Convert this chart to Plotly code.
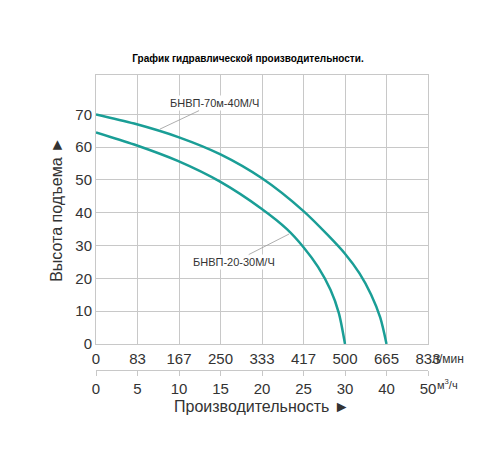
import plotly.graph_objects as go

# gridlines are evenly spaced, one per tick, so x is stored in grid-step units
flow_m3h = ['0', '5', '10', '15', '20', '25', '30', '40', '50']
flow_lmin = ['0', '83', '167', '250', '333', '417', '500', '665', '833']
head_ticks = [0, 10, 20, 30, 40, 50, 60, 70]

pump70_x = [0, 0.92, 2.0, 3.0, 4.0, 5.0, 5.6, 6.0, 6.35, 6.63, 6.85, 7.0]
pump70_y = [70, 67.2, 63.0, 57.8, 50.5, 40.5, 33.0, 27.5, 21.5, 15.0, 8.0, 0]
pump20_x = [0, 0.92, 1.97, 3.0, 3.98, 4.6, 5.0, 5.35, 5.65, 5.85, 6.0]
pump20_y = [64.5, 60.8, 55.8, 49.4, 41.3, 35.0, 29.5, 23.5, 16.5, 9.5, 0]

teal = '#1a9e96'
grey = '#333333'

fig = go.Figure()
fig.add_trace(go.Scatter(x=pump70_x, y=pump70_y, mode='lines',
                         line=dict(color=teal, width=2.5, shape='spline', smoothing=0.8)))
fig.add_trace(go.Scatter(x=pump20_x, y=pump20_y, mode='lines',
                         line=dict(color=teal, width=2.5, shape='spline', smoothing=0.8)))
# second row of flow labels (m3/h)
fig.add_trace(go.Scatter(x=[0], y=[0], xaxis='x2', mode='markers',
                         marker=dict(opacity=0), hoverinfo='skip'))

fig.add_annotation(x=1.54, y=65.5, text='БНВП-70м-40М/Ч', ax=55, ay=-26,
                   showarrow=True, arrowhead=0, arrowcolor='#999999', arrowwidth=0.8,
                   bgcolor='white', font=dict(size=11, color=grey))
fig.add_annotation(x=4.65, y=33.5, text='БНВП-20-30М/Ч', ax=-55, ay=28,
                   showarrow=True, arrowhead=0, arrowcolor='#999999', arrowwidth=0.8,
                   bgcolor='white', font=dict(size=11, color=grey))
fig.add_annotation(x=1.005, y=0.134, xref='paper', yref='paper', text='л/мин', showarrow=False,
                   xanchor='left', yanchor='middle', font=dict(size=12, color=grey))
fig.add_annotation(x=1.02, y=0.057, xref='paper', yref='paper', text='м<sup>3</sup>/ч', showarrow=False,
                   xanchor='left', yanchor='middle', font=dict(size=11, color=grey))
fig.add_annotation(x=0.5, y=-0.01, xref='paper', yref='paper', text='Производительность ►',
                   showarrow=False, yanchor='middle', font=dict(size=16, color=grey))

fig.update_layout(
    width=500, height=450,
    margin=dict(l=88, r=80, t=67, b=55),
    paper_bgcolor='white', plot_bgcolor='white',
    showlegend=False,
    font=dict(family='Liberation Sans, Arial', color=grey),
    title=dict(text='<b>График гидравлической производительности.</b>', x=0.48, y=0.895,
               xanchor='center', font=dict(size=10, color='black')),
    xaxis=dict(range=[0, 8], tickvals=list(range(9)), ticktext=flow_lmin,
               showgrid=True, gridcolor='#c8c8c8', gridwidth=1, zeroline=False,
               showline=True, linecolor='#c8c8c8', mirror=True,
               tickfont=dict(size=15, color=grey), ticks='', ticklabelstandoff=1),
    xaxis2=dict(range=[0, 8], tickvals=list(range(9)), ticktext=flow_m3h, overlaying='x',
                anchor='free', position=0.10, side='bottom',
                showgrid=False, zeroline=False, showline=True, linecolor='#c8c8c8',
                ticks='outside', ticklen=5, tickcolor='#c8c8c8',
                tickfont=dict(size=15, color=grey)),
    yaxis=dict(range=[0, 82], tickvals=head_ticks, domain=[0.18, 1],
               showgrid=True, gridcolor='#c8c8c8', zeroline=False,
               showline=True, linecolor='#c8c8c8', mirror=True,
               tickfont=dict(size=15, color=grey), ticks='',
               title=dict(text='Высота подъема ►', font=dict(size=16, color=grey), standoff=8)),
)

fig.write_html('out.html')
